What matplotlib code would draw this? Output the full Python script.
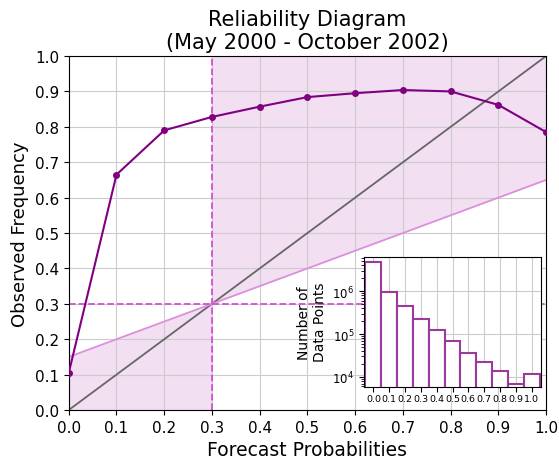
import numpy as np
import matplotlib
matplotlib.use("Agg")
import matplotlib.pyplot as plt

# Datos del diagrama de fiabilidad
prob_bins = [0.0, 0.1, 0.2, 0.3, 0.4, 0.5, 0.6, 0.7, 0.8, 0.9, 1.0]
obs_freq = [0.105, 0.665, 0.79, 0.828, 0.857, 0.884, 0.895, 0.904, 0.900, 0.862, 0.785]
n_points = [4.7e6, 9.5e5, 4.5e5, 2.3e5, 1.24e5, 7.0e4, 3.7e4, 2.2e4, 1.36e4, 6.9e3, 1.17e4]

# Climatología
clim = 0.3
no_skill_x = [0.0, 1.0]
no_skill_y = [0.15, 0.65]

purple = "#800080"
fill_col = "#f2dff2"
dash_col = "#d54fd5"

fig = plt.figure(figsize=(5.59, 4.60), dpi=100)
ax = fig.add_axes([0.123, 0.1065, 0.854, 0.7695])

# Regiones con habilidad
x_left = np.array([0.0, clim])
x_right = np.array([clim, 1.0])
ns = lambda x: np.interp(x, no_skill_x, no_skill_y)
ax.fill_between(x_left, 0, ns(x_left), color=fill_col, lw=0, zorder=0)
ax.fill_between(x_right, ns(x_right), 1, color=fill_col, lw=0, zorder=0)

ax.plot([0, 1], [0, 1], color="#666666", lw=1.3, zorder=2)
ax.plot(no_skill_x, no_skill_y, color="#dc8fdc", lw=1.3, zorder=2)
ax.axvline(clim, color=dash_col, ls="--", lw=1.3, zorder=2)
ax.axhline(clim, color=dash_col, ls="--", lw=1.3, zorder=2)
ax.plot(prob_bins, obs_freq, color=purple, marker="o", ms=4, lw=1.5, zorder=3)

ax.set_xlim(0, 1)
ax.set_ylim(0, 1)
ax.set_xticks(np.arange(0, 1.01, 0.1))
ax.set_yticks(np.arange(0, 1.01, 0.1))
ax.tick_params(labelsize=11)
ax.grid(True, color="#cccccc", lw=0.8, zorder=1)
ax.set_axisbelow(True)
ax.set_xlabel("Forecast Probabilities", fontsize=13.5)
ax.set_ylabel("Observed Frequency", fontsize=13)
ax.set_title("Reliability Diagram\n(May 2000 - October 2002)", fontsize=15)

# Histograma insertado
axi = fig.add_axes([0.651, 0.157, 0.317, 0.283])
axi.bar(prob_bins, n_points, width=0.1, color="white", edgecolor="#9b3a9b", lw=1.5, zorder=2)
axi.set_yscale("log")
axi.set_xlim(-0.06, 1.06)
axi.set_ylim(5.9e3, 6.4e6)
axi.set_xticks(prob_bins)
axi.set_xticklabels([f"{p:.1f}" for p in prob_bins])
axi.tick_params(axis="x", labelsize=6.8, pad=2)
axi.tick_params(axis="y", labelsize=8.5)
axi.grid(True, color="#cccccc", lw=0.8, zorder=0)
axi.set_axisbelow(True)
axi.set_ylabel("Number of\nData Points", fontsize=10)

fig.savefig("out.png", dpi=100)
